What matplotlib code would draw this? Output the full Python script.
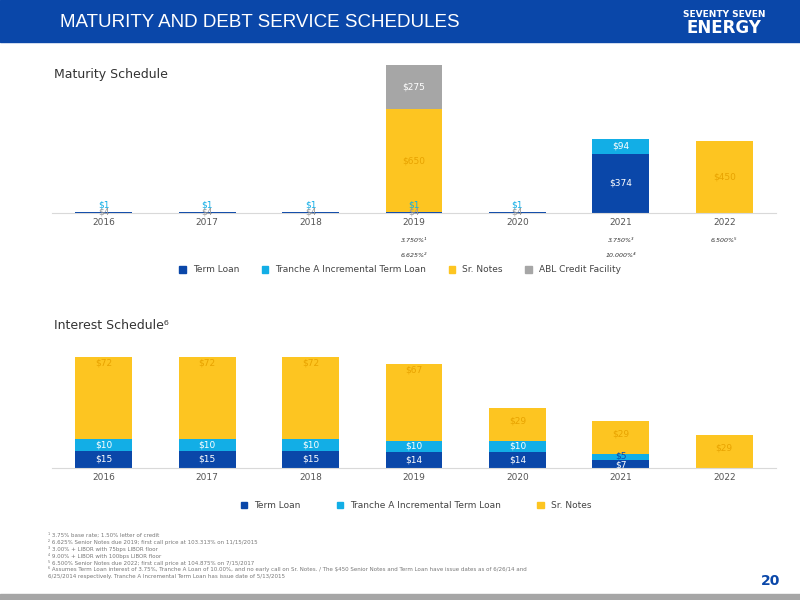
import matplotlib
matplotlib.use("Agg")
import matplotlib.pyplot as plt
import numpy as np
from matplotlib.patches import Rectangle

years = ["2016", "2017", "2018", "2019", "2020", "2021", "2022"]
mat_term = [4, 4, 4, 4, 4, 374, 0]
mat_tranche = [1, 1, 1, 1, 1, 94, 0]
mat_notes = [0, 0, 0, 650, 0, 0, 450]
mat_abl = [0, 0, 0, 275, 0, 0, 0]
int_term = [15, 15, 15, 14, 14, 7, 0]
int_tranche = [10, 10, 10, 10, 10, 5, 0]
int_notes = [72, 72, 72, 67, 29, 29, 29]

C_TERM = "#0a47a9"
C_TR = "#12aee6"
C_SN = "#fdc521"
C_ABL = "#a6a6a6"

fig = plt.figure(figsize=(8, 6), dpi=100)
fig.patches.append(Rectangle((0, 0.93), 1, 0.07, transform=fig.transFigure, color="#0a47a9", zorder=0))
fig.patches.append(Rectangle((0, 0), 1, 0.01, transform=fig.transFigure, color="#a6a6a6", zorder=0))
fig.text(0.075, 0.963, "MATURITY AND DEBT SERVICE SCHEDULES", color="white", fontsize=13.5, va="center", family="Liberation Sans")
fig.text(0.905, 0.976, "SEVENTY SEVEN", color="white", fontsize=6.5, weight="bold", ha="center", va="center")
fig.text(0.905, 0.953, "ENERGY", color="white", fontsize=12, weight="bold", ha="center", va="center")
fig.text(0.975, 0.025, "20", color="#0a47a9", fontsize=10, weight="bold", ha="right")
fig.text(0.068, 0.87, "Maturity Schedule", fontsize=9, color="#333333")
fig.text(0.068, 0.452, "Interest Schedule⁶", fontsize=9, color="#333333")

x = np.arange(len(years))
w = 0.55
lab = dict(fontsize=6.5, ha="center", va="center")

# Top chart
ax1 = fig.add_axes([0.065, 0.645, 0.905, 0.25])
b0 = np.zeros(7)
for vals, col in [(mat_term, C_TERM), (mat_tranche, C_TR), (mat_notes, C_SN), (mat_abl, C_ABL)]:
    ax1.bar(x, vals, w, bottom=b0, color=col)
    b0 += np.array(vals)
ax1.set_ylim(0, 925 * 1.02)
ax1.set_xlim(-0.5, 6.5)
for i in range(7):
    if mat_term[i] and mat_term[i] < 50:
        ax1.text(x[i], 8, f"${mat_term[i]}", color="#999999", **lab)
        ax1.text(x[i], 48, f"${mat_tranche[i]}", color=C_TR, **lab)
    elif mat_term[i]:
        ax1.text(x[i], mat_term[i] / 2, f"${mat_term[i]}", color="white", **lab)
        ax1.text(x[i], mat_term[i] + mat_tranche[i] / 2, f"${mat_tranche[i]}", color="white", **lab)
    if mat_notes[i]:
        base = mat_term[i] + mat_tranche[i]
        ax1.text(x[i], base + mat_notes[i] * 0.5, f"${mat_notes[i]}", color="#e8a300", **lab)
    if mat_abl[i]:
        base = mat_term[i] + mat_tranche[i] + mat_notes[i]
        ax1.text(x[i], base + mat_abl[i] / 2, f"${mat_abl[i]}", color="white", **lab)
ax1.set_xticks(x, years, fontsize=6.5, color="#555555")
ax1.tick_params(length=0)
ax1.set_yticks([])
for s in ["top", "right", "left"]:
    ax1.spines[s].set_visible(False)
ax1.spines["bottom"].set_color("#d9d9d9")
fn = dict(fontsize=4.5, style="italic", ha="center", va="center", color="#333333")
ax1.text(3, -170, "3.750%¹", **fn)
ax1.text(3, -265, "6.625%²", **fn)
ax1.text(5, -170, "3.750%³", **fn)
ax1.text(5, -265, "10.000%⁴", **fn)
ax1.text(6, -170, "6.500%⁵", **fn)
h = [Rectangle((0, 0), 1, 1, color=c) for c in [C_TERM, C_TR, C_SN, C_ABL]]
fig.legend(h, ["Term Loan", "Tranche A Incremental Term Loan", "Sr. Notes", "ABL Credit Facility"],
           loc="center", bbox_to_anchor=(0.5, 0.55), ncol=4, frameon=False, fontsize=6.5,
           handlelength=0.7, handleheight=0.7, columnspacing=2.5, labelcolor="#444444")

# Bottom chart
ax2 = fig.add_axes([0.065, 0.22, 0.905, 0.19])
b0 = np.zeros(7)
for vals, col in [(int_term, C_TERM), (int_tranche, C_TR), (int_notes, C_SN)]:
    ax2.bar(x, vals, w, bottom=b0, color=col)
    b0 += np.array(vals)
ax2.set_ylim(0, 97 * 1.03)
ax2.set_xlim(-0.5, 6.5)
for i in range(7):
    if int_term[i]:
        yy = int_term[i] / 2 if int_term[i] > 10 else int_term[i] / 2 - 1
        ax2.text(x[i], yy, f"${int_term[i]}", color="white", **lab)
    if int_tranche[i]:
        ax2.text(x[i], int_term[i] + int_tranche[i] / 2 + (0 if int_tranche[i] > 6 else 1), f"${int_tranche[i]}",
                 color="white" if int_tranche[i] > 6 else "#0a47a9", **lab)
    base = int_term[i] + int_tranche[i]
    ax2.text(x[i], base + int_notes[i] - 5 if int_notes[i] > 40 else base + int_notes[i] * 0.6,
             f"${int_notes[i]}", color="#e8a300", **lab)
ax2.set_xticks(x, years, fontsize=6.5, color="#555555")
ax2.tick_params(length=0)
ax2.set_yticks([])
for s in ["top", "right", "left"]:
    ax2.spines[s].set_visible(False)
ax2.spines["bottom"].set_color("#d9d9d9")
fig.legend(h[:3], ["Term Loan", "Tranche A Incremental Term Loan", "Sr. Notes"],
           loc="center", bbox_to_anchor=(0.52, 0.157), ncol=3, frameon=False, fontsize=6.5,
           handlelength=0.7, handleheight=0.7, columnspacing=4, labelcolor="#444444")

notes = ["¹ 3.75% base rate; 1.50% letter of credit",
         "² 6.625% Senior Notes due 2019; first call price at 103.313% on 11/15/2015",
         "³ 3.00% + LIBOR with 75bps LIBOR floor",
         "⁴ 9.00% + LIBOR with 100bps LIBOR floor",
         "⁵ 6.500% Senior Notes due 2022; first call price at 104.875% on 7/15/2017",
         "⁶ Assumes Term Loan interest of 3.75%, Tranche A Loan of 10.00%, and no early call on Sr. Notes. / The $450 Senior Notes and Term Loan have issue dates as of 6/26/14 and",
         "6/25/2014 respectively. Tranche A Incremental Term Loan has issue date of 5/13/2015"]
for k, t in enumerate(notes):
    fig.text(0.06, 0.105 - k * 0.0115, t, fontsize=4, color="#777777")

fig.savefig("out.png", dpi=100)
